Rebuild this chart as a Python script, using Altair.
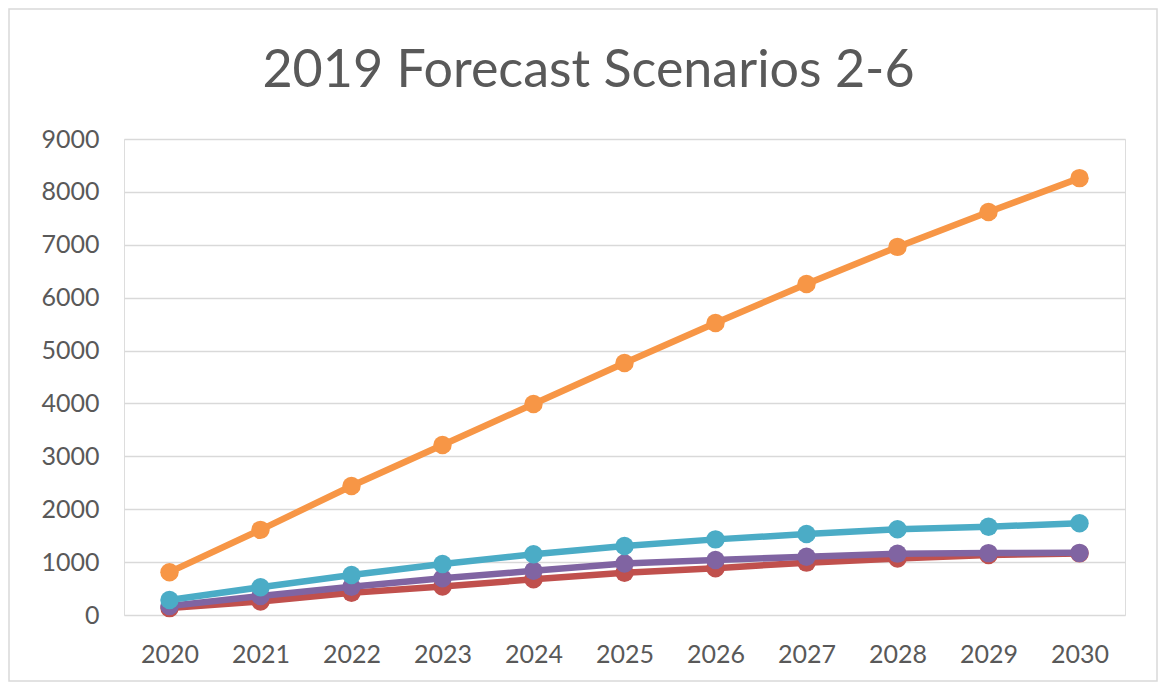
import altair as alt
import pandas as pd

years = ["2020", "2021", "2022", "2023", "2024", "2025", "2026", "2027", "2028", "2029", "2030"]
y_ticks = [0, 1000, 2000, 3000, 4000, 5000, 6000, 7000, 8000, 9000]

# drawing order follows the Excel series order (later series on top)
series_names = ["Scenario 2", "Scenario 4", "Scenario 5", "Scenario 6"]
series_colors = ["#C0504D", "#8064A2", "#4BACC6", "#F79646"]
red_vals = [130, 255, 420, 540, 675, 800, 885, 990, 1070, 1135, 1165]
purple_vals = [170, 360, 535, 695, 835, 975, 1040, 1100, 1160, 1170, 1175]
teal_vals = [285, 525, 755, 965, 1150, 1305, 1430, 1530, 1620, 1670, 1735]
orange_vals = [810, 1610, 2440, 3215, 3990, 4765, 5520, 6260, 6960, 7620, 8260]
series_values = [red_vals, purple_vals, teal_vals, orange_vals]

FONT = "Lato"
TEXT = "#595959"
PLOT_W, PLOT_H = 1001, 476
PAD_L, PAD_T, PAD_R, PAD_B = 116, 131, 33, 67

x_enc = alt.X(
    "Year:O",
    scale=alt.Scale(type="point", padding=0.5, domain=years),
    axis=alt.Axis(title=None, labelAngle=0, labelFont=FONT, labelFontSize=25,
                  labelColor=TEXT, ticks=False, domain=False, grid=False,
                  labelPadding=27),
)
y_enc = alt.Y(
    "Value:Q",
    scale=alt.Scale(domain=[0, 9000], nice=False),
    axis=alt.Axis(title=None, values=y_ticks, format="d", labelFont=FONT, labelFontSize=25,
                  labelColor=TEXT, ticks=False, domain=False, grid=True,
                  gridColor="#D9D9D9", gridWidth=1.5, labelPadding=25),
)

layers = []
border = alt.Chart(pd.DataFrame({"k": [0]})).mark_rect(
    fill="transparent", stroke="#D9D9D9", strokeWidth=1.5
).encode(
    x=alt.value(-PAD_L + 1), x2=alt.value(PLOT_W + PAD_R - 1),
    y=alt.value(-PAD_T + 1), y2=alt.value(PLOT_H + PAD_B - 1),
)
layers.append(border)

for name, vals, color in zip(series_names, series_values, series_colors):
    df = pd.DataFrame({"Year": years, "Value": vals, "Series": name})
    base = alt.Chart(df).encode(x=x_enc, y=y_enc)
    layers.append(base.mark_line(color=color, strokeWidth=6.5, strokeCap="round", strokeJoin="round"))
    layers.append(base.mark_point(filled=True, shape="circle", size=340, color=color, opacity=1))

chart = alt.layer(*layers).properties(
    width=PLOT_W,
    height=PLOT_H,
    autosize=alt.AutoSizeParams(type="none"),
    padding={"left": PAD_L, "top": PAD_T, "right": PAD_R, "bottom": PAD_B},
    title=alt.TitleParams(
        "2019 Forecast Scenarios 2-6", font=FONT, fontSize=52, fontWeight="normal",
        color=TEXT, anchor="middle", dx=-36, offset=-131, baseline="alphabetic",
    ),
).configure_view(stroke=None).configure(background="white")

chart.save("out.html", embed_options={"renderer": "svg", "actions": False})
